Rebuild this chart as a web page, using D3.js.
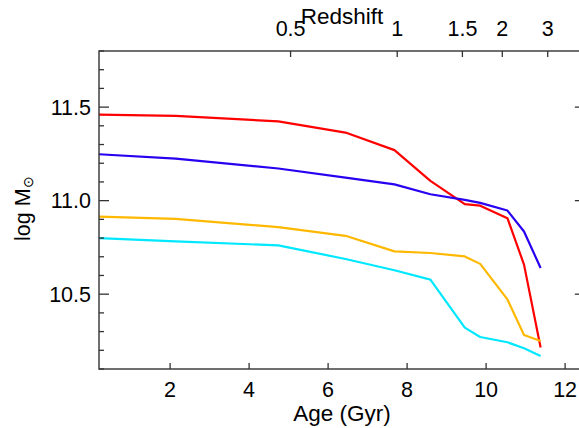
<!DOCTYPE html>
<html>
<head>
<meta charset="utf-8">
<script src="https://cdn.jsdelivr.net/npm/d3@7"></script>
<style>
  body { margin: 0; background: #fff; }
  text { font-family: "Liberation Sans", Arial, sans-serif; fill: #000; }
</style>
</head>
<body>
<div id="chart"></div>
<script>
// ages (Gyr) where each curve has a vertex
var ages = [0.2, 2.14, 4.74, 6.44, 7.68, 8.59, 9.46, 9.85, 10.54, 10.96, 11.38];

// log stellar mass for each curve
var redMass    = [11.460, 11.453, 11.424, 11.364, 11.270, 11.106, 10.981, 10.973, 10.906, 10.658, 10.215];
var blueMass   = [11.248, 11.225, 11.172, 11.123, 11.087, 11.034, 11.004, 10.988, 10.947, 10.835, 10.640];
var yellowMass = [10.915, 10.903, 10.858, 10.812, 10.729, 10.720, 10.702, 10.662, 10.472, 10.282, 10.250];
var cyanMass   = [10.800, 10.782, 10.761, 10.688, 10.628, 10.578, 10.321, 10.271, 10.243, 10.211, 10.170];

var seriesColors = ["#ff0000", "#2a00f0", "#ffb800", "#00e8ff"];

// bottom axis ticks (age) and top axis ticks (redshift at matching age)
var ageTicks      = [2, 4, 6, 8, 10, 12];
var redshiftTicks = ["0.5", "1", "1.5", "2", "3"];
var redshiftAges  = [5.05, 7.75, 9.40, 10.41, 11.56];

var massMajor = [10.5, 11.0, 11.5];
var massMinor = d3.range(10.1, 11.81, 0.1);

var width = 579, height = 428;
var margin = {top: 51, left: 99, bottom: 59};

var x = d3.scaleLinear().domain([0.2, 12.5]).range([margin.left, margin.left + 39.5 * 12.3]);
var y = d3.scaleLinear().domain([10.1, 11.8]).range([height - margin.bottom, margin.top]);

var svg = d3.select("#chart").append("svg")
    .attr("width", width)
    .attr("height", height);

var x0 = x.range()[0], x1 = x.range()[1],
    yb = y.range()[0], yt = y.range()[1];

// curves
var line = d3.line()
    .x(function(d) { return x(d[0]); })
    .y(function(d) { return y(d[1]); });

[redMass, blueMass, yellowMass, cyanMass].forEach(function(vals, i) {
  svg.append("path")
      .datum(ages.map(function(a, j) { return [a, vals[j]]; }))
      .attr("fill", "none")
      .attr("stroke", seriesColors[i])
      .attr("stroke-width", 2.2)
      .attr("stroke-linejoin", "round")
      .attr("d", line);
});

// frame
var axisColor = "#333";
svg.append("rect")
    .attr("x", x0).attr("y", yt)
    .attr("width", x1 - x0).attr("height", yb - yt)
    .attr("fill", "none")
    .attr("stroke", axisColor)
    .attr("stroke-width", 1.4);

// left / right y ticks
massMinor.forEach(function(v) {
  var major = massMajor.some(function(m) { return Math.abs(m - v) < 1e-6; });
  var len = major ? 10 : 5;
  svg.append("line")
      .attr("x1", x0).attr("x2", x0 + len)
      .attr("y1", y(v)).attr("y2", y(v))
      .attr("stroke", axisColor).attr("stroke-width", 1.3);
  svg.append("line")
      .attr("x1", x1).attr("x2", x1 - len)
      .attr("y1", y(v)).attr("y2", y(v))
      .attr("stroke", axisColor).attr("stroke-width", 1.3);
});

var tickSize = "21.5px", titleSize = "22.5px";

svg.selectAll(".ylab")
    .data(massMajor)
  .enter().append("text")
    .attr("x", x0 - 8)
    .attr("y", function(d) { return y(d); })
    .attr("dy", "0.35em")
    .attr("text-anchor", "end")
    .style("font-size", tickSize)
    .text(function(d) { return d3.format(".1f")(d); });

// bottom ticks
ageTicks.forEach(function(a) {
  svg.append("line")
      .attr("x1", x(a)).attr("x2", x(a))
      .attr("y1", yb).attr("y2", yb - 6)
      .attr("stroke", axisColor).attr("stroke-width", 1.3);
});
svg.selectAll(".xlab")
    .data(ageTicks)
  .enter().append("text")
    .attr("x", function(d) { return x(d); })
    .attr("y", yb + 28)
    .attr("text-anchor", "middle")
    .style("font-size", tickSize)
    .text(function(d) { return d; });

// top ticks (redshift)
redshiftAges.forEach(function(a) {
  svg.append("line")
      .attr("x1", x(a)).attr("x2", x(a))
      .attr("y1", yt).attr("y2", yt + 6)
      .attr("stroke", axisColor).attr("stroke-width", 1.3);
});
svg.selectAll(".zlab")
    .data(redshiftTicks)
  .enter().append("text")
    .attr("x", function(d, i) { return x(redshiftAges[i]); })
    .attr("y", yt - 15)
    .attr("text-anchor", "middle")
    .style("font-size", tickSize)
    .text(function(d) { return d; });

// axis titles
var xc = (x0 + x1) / 2;
svg.append("text")
    .attr("x", xc).attr("y", 421)
    .attr("text-anchor", "middle")
    .style("font-size", titleSize)
    .text("Age (Gyr)");

svg.append("text")
    .attr("x", xc).attr("y", 24)
    .attr("text-anchor", "middle")
    .style("font-size", titleSize)
    .text("Redshift");

var ylab = svg.append("text")
    .attr("transform", "translate(30,241) rotate(-90)")
    .style("font-size", "21.5px");
ylab.append("tspan").text("log M");
ylab.append("tspan")
    .attr("dy", 3)
    .style("font-size", "14px")
    .text("\u2299");
</script>
</body>
</html>
